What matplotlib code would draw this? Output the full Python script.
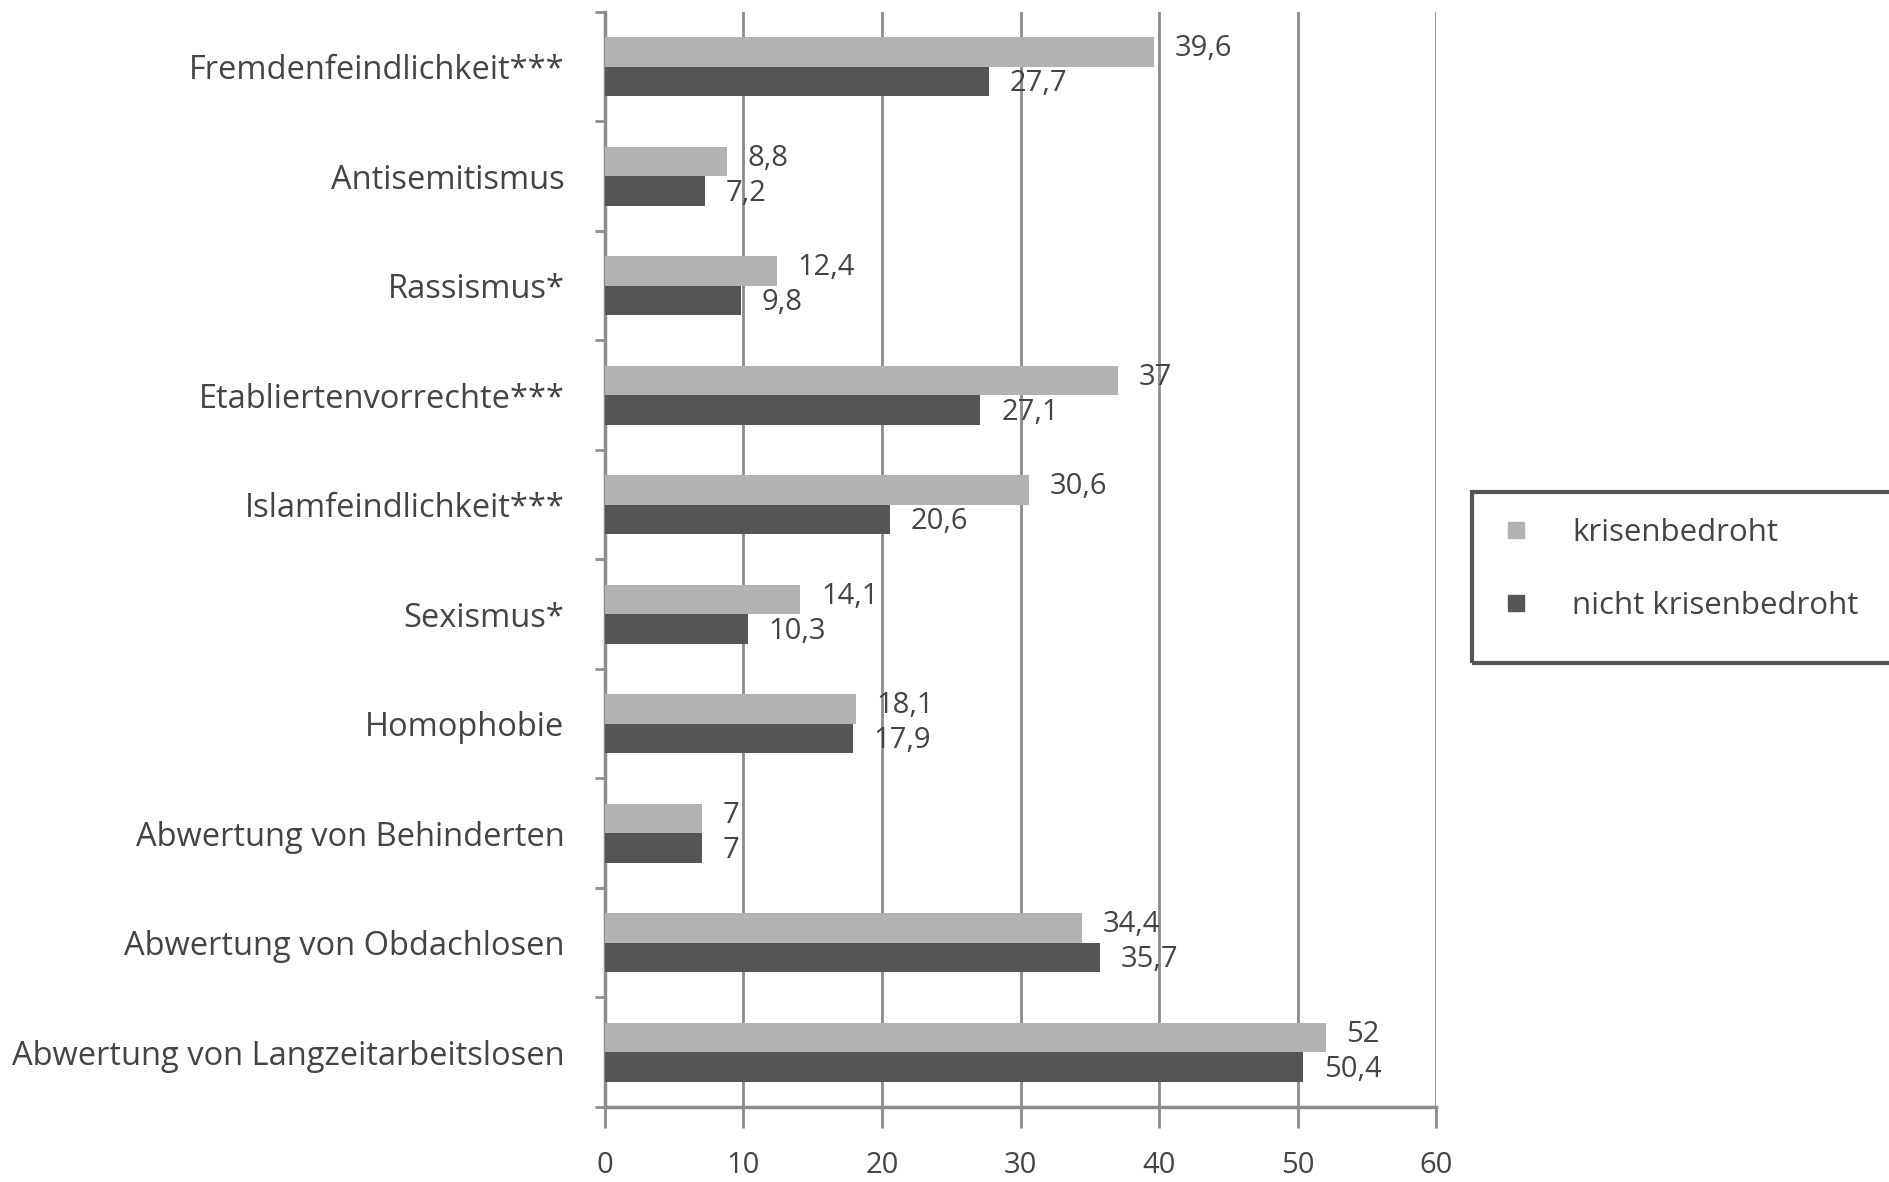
#!/usr/bin/env python3
import matplotlib
matplotlib.use('Agg')
import matplotlib.pyplot as plt
from matplotlib.lines import Line2D
from matplotlib.patches import Rectangle
import numpy as np

plt.rcParams['font.family'] = ['Open Sans', 'DejaVu Sans']

categories = ['Fremdenfeindlichkeit***', 'Antisemitismus', 'Rassismus*',
              'Etabliertenvorrechte***', 'Islamfeindlichkeit***', 'Sexismus*',
              'Homophobie', 'Abwertung von Behinderten',
              'Abwertung von Obdachlosen', 'Abwertung von Langzeitarbeitslosen']
krisenbedroht = [39.6, 8.8, 12.4, 37, 30.6, 14.1, 18.1, 7, 34.4, 52]
nicht_krisenbedroht = [27.7, 7.2, 9.8, 27.1, 20.6, 10.3, 17.9, 7, 35.7, 50.4]
series_names = ['krisenbedroht', 'nicht krisenbedroht']
xticks = [0, 10, 20, 30, 40, 50, 60]

light = '#b2b2b2'
dark = '#555555'
line_col = '#8c8c8c'
text_col = '#444444'


def fmt(v):
    # German decimal comma, whole numbers without decimals
    if float(v).is_integer():
        return str(int(v))
    return ('%.1f' % v).replace('.', ',')


def main():
    fig = plt.figure(figsize=(18.9, 11.82), dpi=100)
    ax = fig.add_axes([0.320, 0.0635, 0.440, 0.9265])

    y = np.arange(len(categories))
    h = 0.27
    ax.barh(y - h / 2, krisenbedroht, height=h, color=light, zorder=3)
    ax.barh(y + h / 2, nicht_krisenbedroht, height=h, color=dark, zorder=3)

    for i in range(len(categories)):
        ax.text(krisenbedroht[i] + 1.5, y[i] - h / 2 - 0.03, fmt(krisenbedroht[i]),
                va='center', ha='left', fontsize=21, color=text_col)
        ax.text(nicht_krisenbedroht[i] + 1.5, y[i] + h / 2 + 0.02, fmt(nicht_krisenbedroht[i]),
                va='center', ha='left', fontsize=21, color=text_col)

    ax.set_xlim(0, 60)
    ax.set_ylim(len(categories) - 0.5, -0.5)
    ax.set_xticks(xticks)
    ax.set_xticklabels([str(t) for t in xticks])
    ax.grid(axis='x', color=line_col, linewidth=2, zorder=0)

    # category labels centred, tick marks between groups
    ax.set_yticks(y)
    ax.set_yticklabels(categories)
    ax.set_yticks(np.arange(len(categories) + 1) - 0.5, minor=True)
    ax.tick_params(axis='y', which='major', length=0, pad=29, labelsize=23.5, labelcolor=text_col)
    ax.tick_params(axis='y', which='minor', length=7, width=2, color=line_col)
    ax.tick_params(axis='x', length=15, width=2, color=line_col, pad=17,
                   labelsize=21, labelcolor=text_col)

    for side in ['top', 'right']:
        ax.spines[side].set_visible(False)
    for side in ['left', 'bottom']:
        ax.spines[side].set_color(line_col)
        ax.spines[side].set_linewidth(2.5)

    # legend
    handles = [Line2D([], [], marker='s', linestyle='none', markersize=11, color=light),
               Line2D([], [], marker='s', linestyle='none', markersize=11, color=dark)]
    fig.legend(handles, series_names, loc='upper left', bbox_to_anchor=(0.779, 0.572),
               frameon=False, fontsize=22.5, labelcolor=text_col, handletextpad=0.8,
               labelspacing=1.35, borderaxespad=0)
    fig.patches.append(Rectangle((0.779, 0.439), 0.25, 0.145, transform=fig.transFigure,
                                 fill=False, edgecolor='#555555', linewidth=3))

    fig.savefig('out.png', dpi=100, facecolor='white')


if __name__ == '__main__':
    main()
